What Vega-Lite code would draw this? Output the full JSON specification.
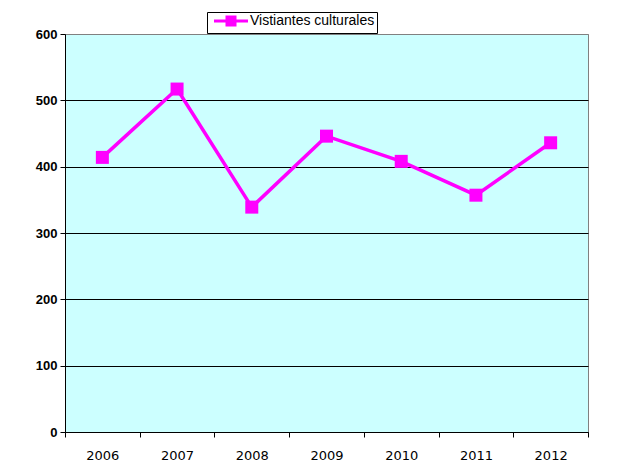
{
  "$schema": "https://vega.github.io/schema/vega-lite/v6.json",
  "width": 523,
  "height": 398,
  "autosize": "none",
  "padding": {"left": 65, "top": 34, "right": 41, "bottom": 44},
  "background": "white",
  "config": {"view": {"fill": "#CCFFFF", "stroke": "#808080", "strokeWidth": 1}},
  "data": {"values": [
    {"year": "2006", "value": 414, "series": "Vistiantes culturales"},
    {"year": "2007", "value": 517, "series": "Vistiantes culturales"},
    {"year": "2008", "value": 339, "series": "Vistiantes culturales"},
    {"year": "2009", "value": 446, "series": "Vistiantes culturales"},
    {"year": "2010", "value": 408, "series": "Vistiantes culturales"},
    {"year": "2011", "value": 357, "series": "Vistiantes culturales"},
    {"year": "2012", "value": 436, "series": "Vistiantes culturales"}
  ]},
  "encoding": {
    "x": {"field": "year", "type": "ordinal",
      "scale": {"type": "band", "paddingInner": 0, "paddingOuter": 0},
      "axis": {"title": null, "tickBand": "extent", "labelAngle": 0, "grid": false,
        "domainColor": "black", "tickColor": "black", "tickSize": 5, "labelPadding": 12,
        "labelFont": "DejaVu Sans", "labelFontSize": 13, "labelColor": "black"}},
    "y": {"field": "value", "type": "quantitative",
      "scale": {"domain": [0, 600], "nice": false},
      "axis": {"title": null, "values": [0, 100, 200, 300, 400, 500, 600],
        "domainColor": "black", "tickColor": "black", "tickSize": 5, "labelPadding": 3,
        "gridColor": {"condition": {"test": "datum.value == 600", "value": "#808080"}, "value": "black"},
        "gridOpacity": 1,
        "labelFont": "Liberation Sans", "labelFontWeight": "bold", "labelFontSize": 13, "labelColor": "black"}},
    "color": {"field": "series", "type": "nominal",
      "scale": {"range": ["#FF00FF"]},
      "legend": {"orient": "none", "legendX": 142, "legendY": -22, "title": null,
        "strokeColor": "black", "fillColor": "white", "padding": 2, "cornerRadius": 0,
        "labelFont": "Liberation Sans", "labelFontSize": 14, "labelColor": "black",
        "symbolOffset": 15, "labelOffset": 12,
        "symbolType": "M-4.25,0H4.25M-1,-1H1V1H-1Z", "symbolSize": 64,
        "symbolStrokeWidth": 3, "symbolStrokeColor": "#FF00FF", "symbolFillColor": "#FF00FF", "symbolOpacity": 1}}
  },
  "layer": [
    {"mark": {"type": "line", "strokeWidth": 3.5}},
    {"mark": {"type": "point", "shape": "square", "filled": true, "size": 169, "opacity": 1}}
  ]
}
